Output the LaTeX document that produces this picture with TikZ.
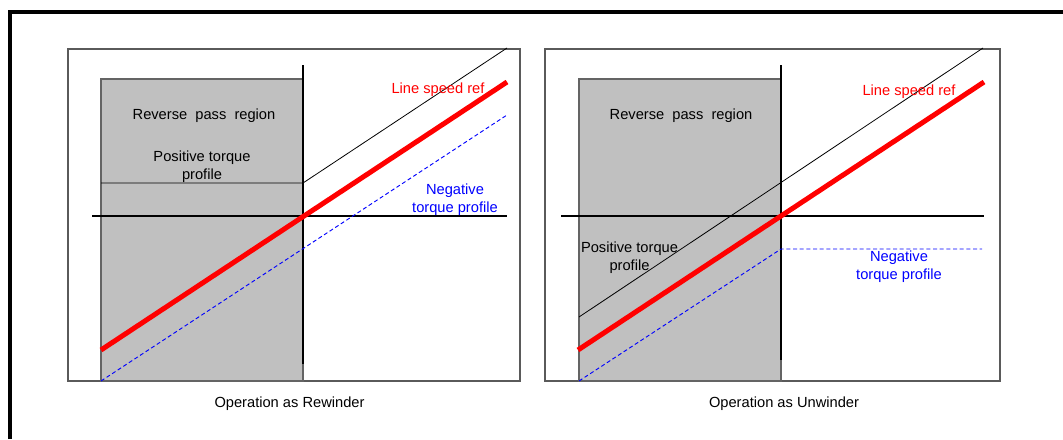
\documentclass[tikz,border=0pt]{standalone}
\usepackage{fontspec}
\setmainfont{Liberation Sans}
\begin{document}
\begin{tikzpicture}[x=0.75pt,y=-0.75pt,
  frame/.style={line width=3pt,black},
  panel/.style={draw={rgb,255:red,90;green,90;blue,90},line width=1pt},
  region/.style={fill={rgb,255:red,192;green,192;blue,192},draw={rgb,255:red,100;green,100;blue,100},line width=0.9pt},
  axis/.style={line width=1.5pt,black},
  speed/.style={line width=3.75pt,red},
  postq/.style={line width=0.6pt,black},
  negtq/.style={line width=0.7pt,blue,dash pattern=on 3pt off 2pt},
  lbl/.style={font=\fontsize{11}{13.3}\selectfont,inner sep=0pt,anchor=center},
]
\useasboundingbox (0,0) rectangle (1063,439);
% outer frame (left and top only)
\draw[frame] (10,439) -- (10,12) -- (1063,12);

% ---------------- left panel ----------------
\draw[panel] (68,49) rectangle (520,381);
\draw[region] (101,79) rectangle (303,381);
\draw[axis] (303,65) -- (303,364);
\draw[axis] (92,216) -- (507,216);
\draw[postq] (101,183) -- (303,183) -- (507,48);
\draw[negtq] (101,381) -- (507,115);
\draw[speed] (101,350) -- (507,82);
\node[lbl] (revL) at (204,116) {Reverse\ \ pass\ \ region};
\node[lbl,align=center] (posL) at (202,167) {Positive torque\\profile};
\node[lbl,red] (lsrL) at (438,90) {Line speed ref};
\node[lbl,blue,align=center] (negL) at (455,200) {Negative\\torque profile};
\node[lbl] (capL) at (289.5,404) {Operation as Rewinder};

% ---------------- right panel ----------------
\draw[panel] (545,49) rectangle (1000,381);
\draw[region] (579,79) rectangle (781,381);
\draw[axis] (781,65) -- (781,360);
\draw[axis] (561,216) -- (984,216);
\draw[postq] (579,317) -- (983,48);
\draw[negtq] (579,381) -- (781,249) -- (982,249);
\draw[speed] (578,350) -- (984,82);
\node[lbl] (revR) at (681,116) {Reverse\ \ pass\ \ region};
\node[lbl,align=center] (posR) at (629.5,258) {Positive torque\\profile};
\node[lbl,red] (lsrR) at (909,92) {Line speed ref};
\node[lbl,blue,align=center] (negR) at (899,267) {Negative\\torque profile};
\node[lbl] (capR) at (784,404) {Operation as Unwinder};
\end{tikzpicture}
\end{document}
